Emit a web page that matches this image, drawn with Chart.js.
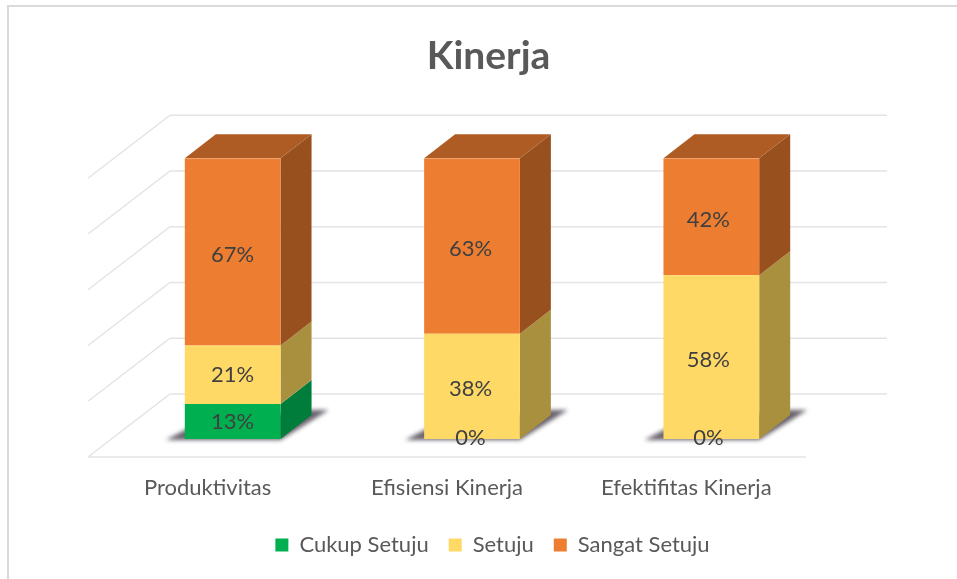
<!DOCTYPE html>
<html>
<head>
<meta charset="utf-8">
<style>
  html, body { margin: 0; padding: 0; background: #fff; overflow: hidden; }
  #wrap { position: relative; width: 957px; height: 579px; overflow: hidden; }
  #frame { position: absolute; left: 7px; top: 5px; width: 970px; height: 600px; border: 2px solid #dadada; box-sizing: border-box; }
  canvas { position: absolute; left: 0; top: 0; }
</style>
<script src="https://cdn.jsdelivr.net/npm/chart.js@4/dist/chart.umd.min.js"></script>
</head>
<body>
<div id="wrap">
  <div id="frame"></div>
  <canvas id="chart" width="957" height="579"></canvas>
</div>
<script>
const categories = ['Produktivitas', 'Efisiensi Kinerja', 'Efektifitas Kinerja'];
const cukupSetuju = [12.5, 0, 0];
const setuju = [20.8, 37.5, 58.3];
const sangatSetuju = [66.7, 62.5, 41.7];
const yTicks = [0, 20, 40, 60, 80, 100];

const sideColors = ['#007d3a', '#a8903f', '#98511e'];
const topColor = '#ae5c23';
const textColor = '#595959';

// depth of the bars and of the floor, in px
const barDx = 31, barDy = -24;
const wallDx = 82, wallDy = -63;
const barShift = 25;

function poly(ctx, pts, fill) {
    ctx.beginPath();
    pts.forEach((p, i) => i ? ctx.lineTo(p[0], p[1]) : ctx.moveTo(p[0], p[1]));
    ctx.closePath();
    ctx.fillStyle = fill;
    ctx.fill();
}

const box3d = {
    id: 'box3d',
    afterLayout(chart) {
        // legend sits a little right of the title in the original
        chart.legend.left += 4;
        chart.legend.right += 4;
    },
    beforeDatasetsDraw(chart) {
        const ctx = chart.ctx;
        const y = chart.scales.y, area = chart.chartArea;
        const floorY = area.bottom + 18;

        // walls and floor
        ctx.save();
        ctx.strokeStyle = '#e4e4e4';
        ctx.lineWidth = 1.5;
        yTicks.forEach(t => {
            const frontY = floorY - (y.getPixelForValue(0) - y.getPixelForValue(t)) * 0.993;
            ctx.beginPath();
            ctx.moveTo(area.left, frontY);
            ctx.lineTo(area.left + wallDx, frontY + wallDy);
            ctx.lineTo(area.right + wallDx - 1, frontY + wallDy);
            ctx.stroke();
        });
        ctx.beginPath();
        ctx.moveTo(area.left, floorY);
        ctx.lineTo(area.right, floorY);
        ctx.stroke();
        ctx.restore();

        ctx.save();
        ctx.translate(barShift, 0);
        const metas = chart.getSortedVisibleDatasetMetas();

        // floor shadow
        metas[0].data.forEach(bar => {
            const l = bar.x - bar.width / 2, r = bar.x + bar.width / 2, b = y.getPixelForValue(0);
            ctx.save();
            ctx.filter = 'blur(2px)';
            poly(ctx, [[l - 19, b + 1], [l + 10, b - 14], [r + barDx, b + barDy - 5], [r + barDx + 17, b + barDy - 5], [r, b + 1]], 'rgba(55,45,60,0.75)');
            ctx.restore();
        });

        // right sides, then the top of the stack
        metas.forEach((meta, d) => {
            meta.data.forEach(bar => {
                const r = bar.x + bar.width / 2, t = bar.y, b = bar.base;
                if (b - t < 0.5) return;
                poly(ctx, [[r, t], [r + barDx, t + barDy], [r + barDx, b + barDy], [r, b]], sideColors[d]);
            });
        });
        metas[metas.length - 1].data.forEach(bar => {
            const l = bar.x - bar.width / 2, r = bar.x + bar.width / 2, t = bar.y;
            poly(ctx, [[l, t], [l + barDx, t + barDy], [r + barDx, t + barDy], [r, t]], topColor);
        });
        ctx.restore();

        ctx.save();
        ctx.translate(barShift, 0);
    },
    afterDatasetsDraw(chart) {
        const ctx = chart.ctx;
        ctx.restore();

        // value labels
        ctx.save();
        ctx.translate(barShift, 0);
        ctx.font = '22px Lato';
        ctx.fillStyle = '#404040';
        ctx.textAlign = 'center';
        ctx.textBaseline = 'middle';
        chart.getSortedVisibleDatasetMetas().forEach((meta, d) => {
            meta.data.forEach((bar, i) => {
                const v = chart.data.datasets[d].data[i];
                const h = bar.base - bar.y;
                // labels on tall segments sit a bit under the middle
                const cy = (bar.y + bar.base) / 2 + (v === 0 ? -1 : h > 80 ? 3 : 0);
                ctx.fillText(Math.round(v) + '%', bar.x - i * 1.5, cy);
            });
        });
        ctx.restore();
    }
};

new Chart(document.getElementById('chart'), {
    type: 'bar',
    data: {
        labels: categories,
        datasets: [
            { label: 'Cukup Setuju', data: cukupSetuju, backgroundColor: '#00b050' },
            { label: 'Setuju', data: setuju, backgroundColor: '#ffd966' },
            { label: 'Sangat Setuju', data: sangatSetuju, backgroundColor: '#ed7d31' }
        ]
    },
    options: {
        responsive: false,
        animation: false,
        events: [],
        categoryPercentage: 1,
        barPercentage: 0.4,
        layout: { padding: { left: 20, right: 0, top: 0, bottom: 13 } },
        scales: {
            x: {
                stacked: true,
                grid: { display: false, drawTicks: false },
                border: { display: false },
                ticks: { padding: 36, color: textColor, maxRotation: 0, autoSkip: false, font: { family: 'Lato', size: 22 } },
                afterFit(s) { s.height = 75; }
            },
            y: {
                stacked: true,
                min: 0,
                max: 100,
                grid: { display: false },
                border: { display: false },
                ticks: { display: false, stepSize: 20 },
                afterFit(s) { s.width = 68; }
            },
            // empty axis, only holds the room right of the plot
            yRight: {
                position: 'right',
                grid: { display: false },
                border: { display: false },
                ticks: { display: false },
                afterFit(s) { s.width = 151; }
            }
        },
        plugins: {
            title: {
                display: true,
                text: 'Kinerja',
                color: textColor,
                font: { family: 'Lato', size: 39, weight: 'bold' },
                padding: { top: 33, bottom: 78.5 }
            },
            legend: {
                position: 'bottom',
                labels: { color: textColor, boxWidth: 13, boxHeight: 13, padding: 20, font: { family: 'Lato', size: 22 } }
            },
            tooltip: { enabled: false }
        }
    },
    plugins: [box3d]
});
</script>
</body>
</html>
